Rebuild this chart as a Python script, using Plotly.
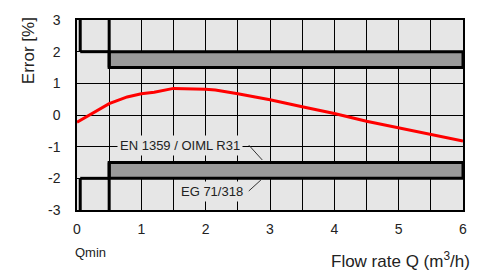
import plotly.graph_objects as go

# Measured error curve
flow_q = [0.0, 0.25, 0.5, 0.78, 1.0, 1.2, 1.5, 2.0, 2.15, 2.5, 3.0, 3.5, 4.0, 4.5, 5.0, 5.5, 6.0]
error_pct = [-0.23, 0.07, 0.36, 0.57, 0.67, 0.72, 0.84, 0.81, 0.79, 0.67, 0.48, 0.26, 0.05, -0.2, -0.4, -0.61, -0.82]

# Tolerance limits
q_start = 0.05      # low flow limit line
q_min = 0.5         # Qmin transition
q_max = 6.0
upper_outer = 2.0
upper_inner = 1.5
lower_outer = -2.0
lower_inner = -1.5
y_top = 3.0
y_bottom = -3.0

x_tickvals = [0, 1, 2, 3, 4, 5, 6]
x_ticktext = ["0", "1", "2", "3", "4", "5", "6"]
y_tickvals = [-3, -2, -1, 0, 1, 2, 3]
y_ticktext = ["-3", "-2", "-1", "0", "1", "2", "3"]

FONT = "Liberation Sans, Arial, Helvetica, sans-serif"
BG = "#e6e6e6"
BAND = "#999999"

fig = go.Figure()
fig.add_trace(go.Scatter(x=flow_q, y=error_pct, mode="lines",
                         line=dict(color="#ff0000", width=3), showlegend=False,
                         hoverinfo="skip"))

thick = dict(color="black", width=3)
shapes = [
    # upper limits
    dict(type="rect", x0=q_min, x1=q_max, y0=upper_inner, y1=upper_outer,
         fillcolor=BAND, line=thick),
    dict(type="line", x0=q_start, x1=q_start, y0=upper_outer, y1=y_top, line=thick),
    dict(type="line", x0=q_start, x1=q_min, y0=upper_outer, y1=upper_outer, line=thick),
    dict(type="line", x0=q_min, x1=q_min, y0=upper_inner, y1=y_top, line=thick),
    # lower limits
    dict(type="rect", x0=q_min, x1=q_max, y0=lower_outer, y1=lower_inner,
         fillcolor=BAND, line=thick),
    dict(type="line", x0=q_start, x1=q_start, y0=y_bottom, y1=lower_outer, line=thick),
    dict(type="line", x0=q_start, x1=q_min, y0=lower_outer, y1=lower_outer, line=thick),
    dict(type="line", x0=q_min, x1=q_min, y0=y_bottom, y1=lower_inner, line=thick),
    # leader lines
    dict(type="line", x0=2.67, x1=2.88, y0=-0.95, y1=-1.42, line=dict(color="#333333", width=1)),
    dict(type="line", x0=2.67, x1=2.86, y0=-2.4, y1=-2.05, line=dict(color="#333333", width=1)),
]

annotations = [
    dict(text="EN 1359 / OIML R31", x=1.6, y=-0.97, xref="x", yref="y",
         showarrow=False, font=dict(family=FONT, size=13, color="#222"),
         bgcolor=BG, borderpad=2),
    dict(text="EG 71/318", x=2.1, y=-2.4, xref="x", yref="y",
         showarrow=False, font=dict(family=FONT, size=13, color="#222"),
         bgcolor=BG, borderpad=2),
    dict(text="Qmin", x=0, y=-0.225, xref="x", yref="paper", xanchor="left",
         yanchor="middle", xshift=-4, showarrow=False,
         font=dict(family=FONT, size=13, color="#222")),
    dict(text="Flow rate Q (m<sup>3</sup>/h)", x=1.023, y=-0.265, xref="paper",
         yref="paper", xanchor="right", yanchor="middle", showarrow=False,
         font=dict(family=FONT, size=17, color="#222")),
    dict(text="Error [%]", x=-0.125, y=0.84, xref="paper", yref="paper",
         xanchor="center", yanchor="middle", textangle=-90, showarrow=False,
         font=dict(family=FONT, size=17, color="#222")),
]

fig.update_layout(
    width=483, height=273,
    margin=dict(l=77, r=20, t=17, b=63),
    paper_bgcolor="white", plot_bgcolor=BG,
    shapes=shapes, annotations=annotations,
    font=dict(family=FONT, size=14, color="#222"),
    xaxis=dict(range=[0, 6], tickvals=x_tickvals, ticktext=x_ticktext,
               showgrid=True, gridcolor="black", gridwidth=1, zeroline=False,
               minor=dict(tick0=0, dtick=0.5, showgrid=True, gridcolor="black",
                          gridwidth=1, ticks=""),
               showline=True, mirror=True, linecolor="black", linewidth=1.5,
               ticks="", ticklabelstandoff=5, fixedrange=True),
    yaxis=dict(range=[-3, 3], tickvals=y_tickvals, ticktext=y_ticktext,
               showgrid=True, gridcolor="black", gridwidth=1, zeroline=False,
               showline=True, mirror=True, linecolor="black", linewidth=1.5,
               ticks="", ticklabelstandoff=12, fixedrange=True),
)

fig.write_html("out.html", config={"displayModeBar": False},
               post_script="document.body.style.margin='0px';document.body.style.overflow='hidden';")
